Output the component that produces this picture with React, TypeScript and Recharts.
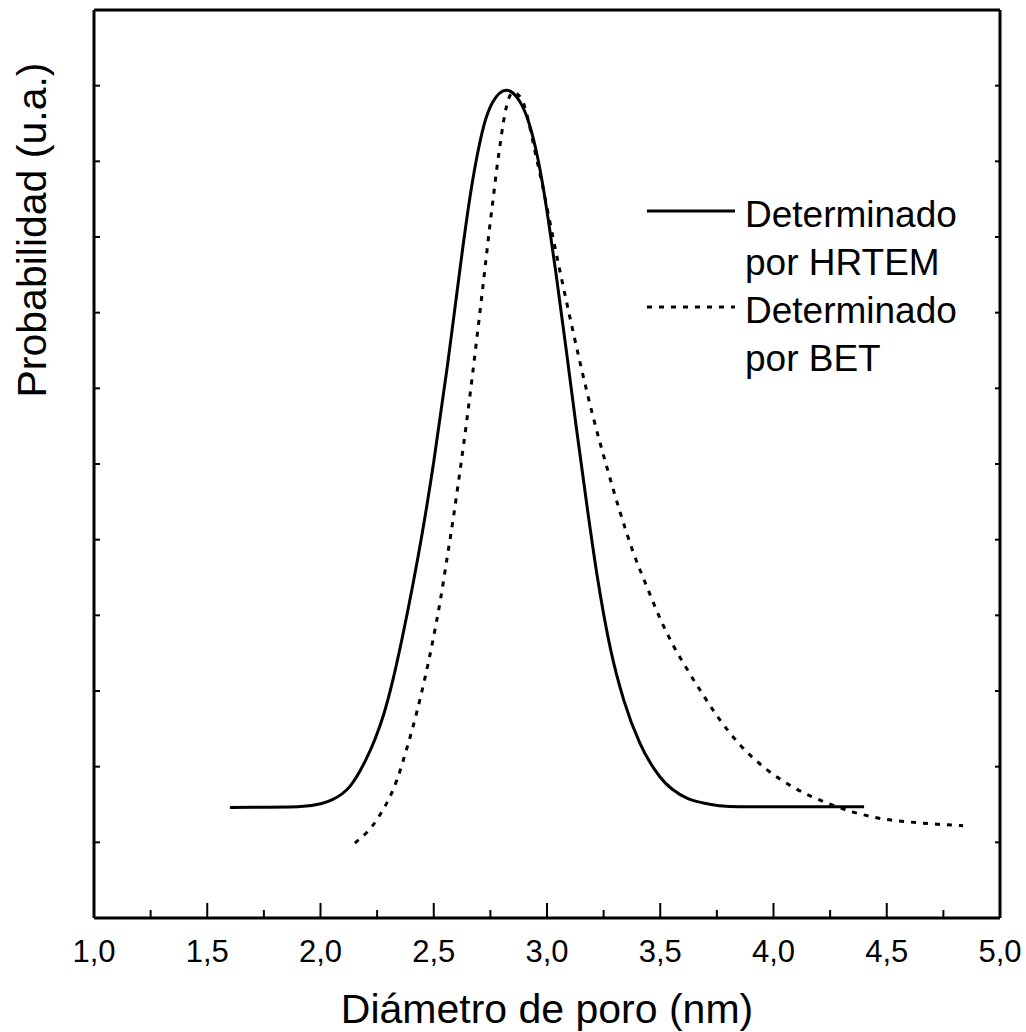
import { LineChart, Line, XAxis, YAxis, Legend, Label } from "recharts";

const FONT = "'Liberation Sans', Arial, sans-serif";

// pore size distribution from HRTEM images
const hrtemDiameter = [
  1.6, 1.9, 2.0, 2.05, 2.13, 2.2, 2.24, 2.28, 2.32, 2.36, 2.41, 2.45, 2.5, 2.56,
  2.6, 2.63, 2.66, 2.69, 2.72, 2.76, 2.82, 2.88, 2.92, 2.96, 2.98, 3.01, 3.04,
  3.09, 3.13, 3.18, 3.22, 3.28, 3.34, 3.41, 3.5, 3.62, 3.69, 3.76, 3.85, 4.4,
];
const hrtemProb = [
  1.46, 1.47, 1.51, 1.56, 1.74, 2.09, 2.36, 2.7, 3.15, 3.69, 4.44, 5.1, 6.03,
  7.29, 8.21, 8.9, 9.53, 10.05, 10.46, 10.78, 10.94, 10.79, 10.51, 10.03, 9.71,
  9.14, 8.51, 7.39, 6.47, 5.37, 4.55, 3.56, 2.87, 2.31, 1.86, 1.58, 1.52, 1.485,
  1.47, 1.47,
];

// pore size distribution from N2 adsorption (BET)
const betDiameter = [
  2.152, 2.249, 2.338, 2.382, 2.426, 2.461, 2.497, 2.528, 2.558, 2.585, 2.616,
  2.647, 2.669, 2.691, 2.713, 2.735, 2.748, 2.762, 2.779, 2.793, 2.806, 2.823,
  2.85, 2.876, 2.903, 2.925, 2.947, 2.978, 3.0, 3.026, 3.088, 3.146, 3.203,
  3.265, 3.322, 3.38, 3.442, 3.499, 3.556, 3.618, 3.689, 3.751, 3.852, 3.971,
  4.086, 4.236, 4.351, 4.483, 4.634, 4.837,
];
const betProb = [
  0.99, 1.3, 1.83, 2.25, 2.73, 3.17, 3.68, 4.18, 4.74, 5.26, 5.91, 6.6, 7.13,
  7.68, 8.24, 8.82, 9.16, 9.5, 9.92, 10.22, 10.49, 10.75, 10.91, 10.87, 10.71,
  10.44, 10.13, 9.71, 9.39, 9.0, 8.12, 7.34, 6.63, 5.95, 5.37, 4.84, 4.37,
  3.96, 3.61, 3.29, 2.95, 2.67, 2.29, 1.96, 1.73, 1.52, 1.4, 1.31, 1.26, 1.22,
];

const seriesNames = ["Determinado por HRTEM", "Determinado por BET"];
const seriesDash = ["", "5 7"];

const xMajorTicks = [1, 1.5, 2, 2.5, 3, 3.5, 4, 4.5, 5];
const xMinorTicks = [1.25, 1.75, 2.25, 2.75, 3.25, 3.75, 4.25, 4.75];
const xAllTicks = [...xMajorTicks, ...xMinorTicks].sort((a, b) => a - b);
const yTicks = [1, 2, 3, 4, 5, 6, 7, 8, 9, 10, 11];

const hrtemData = hrtemDiameter.map((d, i) => ({ d, p: hrtemProb[i] }));
const betData = betDiameter.map((d, i) => ({ d, p: betProb[i] }));

const frameStroke = { stroke: "#000", strokeWidth: 3 };
const fmtComma = (v: number) => v.toFixed(1).replace(".", ",");

// bottom axis: inward tick marks, labels on the major ones
const renderBottomTick = (props: any) => {
  const { x, y, payload } = props;
  const major = xMajorTicks.includes(payload.value);
  return (
    <g>
      <line x1={x} x2={x} y1={y} y2={y - (major ? 15 : 8)} stroke="#000" strokeWidth={2} />
      {major && (
        <text
          x={x}
          y={y + 22}
          dy="0.71em"
          textAnchor="middle"
          fontSize={31}
          fontFamily={FONT}
          fill="#000"
        >
          {fmtComma(payload.value)}
        </text>
      )}
    </g>
  );
};

const renderTopTick = (props: any) => (
  <line x1={props.x} x2={props.x} y1={props.y} y2={props.y + 3} stroke="#bbb" strokeWidth={1} />
);

const renderLeftTick = (props: any) => (
  <line x1={props.x} x2={props.x + 6} y1={props.y} y2={props.y} stroke="#000" strokeWidth={2} />
);

const renderRightTick = (props: any) => (
  <line x1={props.x} x2={props.x - 5} y1={props.y} y2={props.y} stroke="#000" strokeWidth={2} />
);

const renderLegend = (props: any) => {
  const items = [...(props.payload || [])].sort(
    (a: any, b: any) => seriesNames.indexOf(a.value) - seriesNames.indexOf(b.value)
  );
  return (
    <div style={{ fontFamily: FONT, fontSize: 37, lineHeight: "48px", color: "#000" }}>
      {items.map((entry: any) => {
        const idx = seriesNames.indexOf(entry.value);
        const [first, ...rest] = String(entry.value).split(" ");
        return (
          <div key={entry.value} style={{ display: "flex", alignItems: "flex-start" }}>
            <svg width={98} height={48} style={{ display: "block" }}>
              <line
                x1={0}
                x2={88}
                y1={20}
                y2={20}
                stroke="#000"
                strokeWidth={3}
                strokeDasharray={seriesDash[idx] || undefined}
              />
            </svg>
            <div>
              <div>{first}</div>
              <div>{rest.join(" ")}</div>
            </div>
          </div>
        );
      })}
    </div>
  );
};

const renderYLabel = (props: any) => {
  const vx = props.viewBox?.x ?? 0;
  const cx = vx + 32;
  const cy = 230;
  return (
    <text
      x={cx}
      y={cy}
      transform={`rotate(-90 ${cx} ${cy})`}
      textAnchor="middle"
      dominantBaseline="central"
      fontSize={41}
      fontFamily={FONT}
      fill="#000"
    >
      Probabilidad (u.a.)
    </text>
  );
};

export default function App() {
  return (
    <div style={{ position: "absolute", left: 0, top: 0, background: "#fff" }}>
      <LineChart
        width={1026}
        height={1032}
        margin={{ top: 9, right: 25, bottom: 0, left: 0 }}
      >
        <XAxis
          xAxisId="x"
          type="number"
          dataKey="d"
          domain={[1, 5]}
          allowDataOverflow
          ticks={xAllTicks}
          interval={0}
          tick={renderBottomTick}
          tickLine={false}
          tickSize={0}
          tickMargin={0}
          axisLine={frameStroke}
          height={114}
        >
          <Label
            value="Diámetro de poro (nm)"
            position="insideBottom"
            offset={9}
            style={{ fontSize: 41, fill: "#000", fontFamily: FONT }}
          />
        </XAxis>
        <XAxis
          xAxisId="xTop"
          orientation="top"
          type="number"
          domain={[1, 5]}
          allowDataOverflow
          ticks={xAllTicks}
          interval={0}
          tick={renderTopTick}
          tickLine={false}
          tickSize={0}
          tickMargin={0}
          axisLine={frameStroke}
          height={1}
        />
        <YAxis
          yAxisId="y"
          type="number"
          domain={[0, 12]}
          allowDataOverflow
          ticks={yTicks}
          interval={0}
          tick={renderLeftTick}
          tickLine={false}
          tickSize={0}
          tickMargin={0}
          axisLine={frameStroke}
          width={94}
        >
          <Label content={renderYLabel} />
        </YAxis>
        <YAxis
          yAxisId="yRight"
          orientation="right"
          type="number"
          domain={[0, 12]}
          allowDataOverflow
          ticks={yTicks}
          interval={0}
          tick={renderRightTick}
          tickLine={false}
          tickSize={0}
          tickMargin={0}
          axisLine={frameStroke}
          width={1}
        />
        <Legend
          content={renderLegend}
          layout="horizontal"
          verticalAlign="middle"
          align="center"
          wrapperStyle={{ left: 647, top: 191, width: "auto", height: "auto" }}
        />
        <Line
          xAxisId="x"
          yAxisId="y"
          data={hrtemData}
          dataKey="p"
          name={seriesNames[0]}
          type="monotone"
          stroke="#000"
          strokeWidth={3}
          dot={false}
          isAnimationActive={false}
        />
        <Line
          xAxisId="x"
          yAxisId="y"
          data={betData}
          dataKey="p"
          name={seriesNames[1]}
          type="monotone"
          stroke="#000"
          strokeWidth={3}
          strokeDasharray={seriesDash[1]}
          dot={false}
          isAnimationActive={false}
        />
      </LineChart>
    </div>
  );
}
